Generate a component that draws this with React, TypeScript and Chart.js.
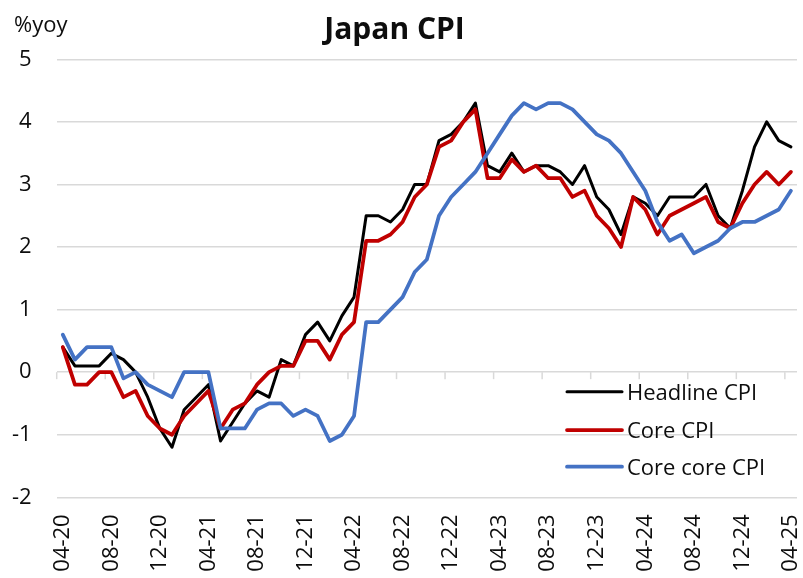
import React, { useEffect, useRef } from "react";
import { Chart, registerables } from "chart.js";

Chart.register(...registerables);

const categories = [
  "04-20", "05-20", "06-20", "07-20", "08-20", "09-20", "10-20", "11-20", "12-20",
  "01-21", "02-21", "03-21", "04-21", "05-21", "06-21", "07-21", "08-21", "09-21", "10-21", "11-21", "12-21",
  "01-22", "02-22", "03-22", "04-22", "05-22", "06-22", "07-22", "08-22", "09-22", "10-22", "11-22", "12-22",
  "01-23", "02-23", "03-23", "04-23", "05-23", "06-23", "07-23", "08-23", "09-23", "10-23", "11-23", "12-23",
  "01-24", "02-24", "03-24", "04-24", "05-24", "06-24", "07-24", "08-24", "09-24", "10-24", "11-24", "12-24",
  "01-25", "02-25", "03-25", "04-25",
];

const headlineCPI = [
  0.4, 0.1, 0.1, 0.1, 0.3, 0.2, 0.0, -0.4, -0.9, -1.2,
  -0.6, -0.4, -0.2, -1.1, -0.8, -0.5, -0.3, -0.4, 0.2, 0.1,
  0.6, 0.8, 0.5, 0.9, 1.2, 2.5, 2.5, 2.4, 2.6, 3.0,
  3.0, 3.7, 3.8, 4.0, 4.3, 3.3, 3.2, 3.5, 3.2, 3.3,
  3.3, 3.2, 3.0, 3.3, 2.8, 2.6, 2.2, 2.8, 2.7, 2.5,
  2.8, 2.8, 2.8, 3.0, 2.5, 2.3, 2.9, 3.6, 4.0, 3.7,
  3.6,
];

const coreCPI = [
  0.4, -0.2, -0.2, 0.0, 0.0, -0.4, -0.3, -0.7, -0.9, -1.0,
  -0.7, -0.5, -0.3, -0.9, -0.6, -0.5, -0.2, 0.0, 0.1, 0.1,
  0.5, 0.5, 0.2, 0.6, 0.8, 2.1, 2.1, 2.2, 2.4, 2.8,
  3.0, 3.6, 3.7, 4.0, 4.2, 3.1, 3.1, 3.4, 3.2, 3.3,
  3.1, 3.1, 2.8, 2.9, 2.5, 2.3, 2.0, 2.8, 2.6, 2.2,
  2.5, 2.6, 2.7, 2.8, 2.4, 2.3, 2.7, 3.0, 3.2, 3.0,
  3.2,
];

const coreCoreCPI = [
  0.6, 0.2, 0.4, 0.4, 0.4, -0.1, 0.0, -0.2, -0.3, -0.4,
  0.0, 0.0, 0.0, -0.9, -0.9, -0.9, -0.6, -0.5, -0.5, -0.7,
  -0.6, -0.7, -1.1, -1.0, -0.7, 0.8, 0.8, 1.0, 1.2, 1.6,
  1.8, 2.5, 2.8, 3.0, 3.2, 3.5, 3.8, 4.1, 4.3, 4.2,
  4.3, 4.3, 4.2, 4.0, 3.8, 3.7, 3.5, 3.2, 2.9, 2.4,
  2.1, 2.2, 1.9, 2.0, 2.1, 2.3, 2.4, 2.4, 2.5, 2.6,
  2.9,
];

const seriesNames = ["Headline CPI", "Core CPI", "Core core CPI"];
const seriesColors = ["#000000", "#C00000", "#4472C4"];
const seriesWidths = [3, 3.75, 3.75];
const yMin = -2;
const yMax = 5;
const yStep = 1;
const labelEvery = 4;
const chartTitle = "Japan CPI";
const yUnitLabel = "%yoy";

const FONT = "'Open Sans', Lato, sans-serif";
const GRID = "#d9d9d9";
const TEXT = "#0d0d0d";

export default function App() {
  const ref = useRef<HTMLCanvasElement>(null);

  useEffect(() => {
    const canvas = ref.current;
    if (!canvas) return;

    const decor = {
      id: "decor",
      beforeDatasetsDraw(chart: any) {
        const { ctx } = chart;
        const xs = chart.scales.x;
        const ys = chart.scales.y;
        const step = xs.getPixelForValue(1) - xs.getPixelForValue(0);
        const y0 = ys.getPixelForValue(0);
        ctx.save();
        ctx.strokeStyle = GRID;
        ctx.lineWidth = 1.5;
        for (let i = 0; i < categories.length; i += labelEvery) {
          const px = xs.getPixelForValue(i) - step / 2;
          ctx.beginPath();
          ctx.moveTo(px, y0);
          ctx.lineTo(px, y0 + 7);
          ctx.stroke();
        }
        ctx.restore();
      },
      afterDraw(chart: any) {
        const { ctx, chartArea, width } = chart;
        ctx.save();
        // title
        ctx.fillStyle = TEXT;
        ctx.font = `bold 30px ${FONT}`;
        ctx.textAlign = "center";
        ctx.textBaseline = "alphabetic";
        ctx.fillText(chartTitle, width / 2 - 7, 38.5);
        // unit label
        ctx.font = `22px ${FONT}`;
        ctx.textAlign = "left";
        ctx.fillText(yUnitLabel, 14, 32);
        // legend
        const lx = chartArea.right - 230;
        const rows = [chartArea.bottom - 105.6, chartArea.bottom - 67.3, chartArea.bottom - 30.6];
        ctx.font = `22px ${FONT}`;
        seriesNames.forEach((name, i) => {
          ctx.strokeStyle = seriesColors[i];
          ctx.lineWidth = seriesWidths[i];
          ctx.lineCap = "round";
          ctx.beginPath();
          ctx.moveTo(lx, rows[i]);
          ctx.lineTo(lx + 55, rows[i]);
          ctx.stroke();
          ctx.fillStyle = TEXT;
          ctx.fillText(name, lx + 60, rows[i] + 8);
        });
        ctx.restore();
      },
    };

    const series = [headlineCPI, coreCPI, coreCoreCPI];
    const chart = new Chart(canvas, {
      type: "line",
      data: {
        labels: categories,
        datasets: series.map((d, i) => ({
          label: seriesNames[i],
          data: d,
          borderColor: seriesColors[i],
          backgroundColor: seriesColors[i],
          borderWidth: seriesWidths[i],
          pointRadius: 0,
          tension: 0,
          borderJoinStyle: "round" as const,
          borderCapStyle: "round" as const,
          order: 3 - i,
        })),
      },
      options: {
        responsive: false,
        animation: false,
        events: [],
        layout: {
          autoPadding: false,
          padding: { top: 59.3, right: 6, left: 0, bottom: 0 },
        },
        plugins: {
          legend: { display: false },
          title: { display: false },
          tooltip: { enabled: false },
        },
        scales: {
          x: {
            type: "category",
            offset: true,
            grid: { display: false, drawTicks: false },
            border: { display: false },
            ticks: {
              autoSkip: false,
              maxRotation: 90,
              minRotation: 90,
              padding: 17,
              color: TEXT,
              font: { family: FONT, size: 22 },
              callback: (_v: any, i: number) => (i % labelEvery === 0 ? categories[i] : null),
            },
            afterFit: (s: any) => {
              s.height = 80.7;
              s.paddingLeft = 0;
              s.paddingRight = 0;
            },
          },
          y: {
            min: yMin,
            max: yMax,
            grid: { color: GRID, lineWidth: 1.5, drawTicks: false },
            border: { display: false },
            ticks: {
              stepSize: yStep,
              padding: 25,
              color: TEXT,
              font: { family: FONT, size: 22 },
            },
            afterFit: (s: any) => {
              s.width = 56.7;
              s.paddingTop = 0;
              s.paddingBottom = 0;
            },
          },
        },
      },
      plugins: [decor],
    });

    return () => chart.destroy();
  }, []);

  return (
    <div style={{ position: "absolute", left: 0, top: 0, width: 803, height: 578, background: "#fff" }}>
      <canvas ref={ref} width={803} height={578} style={{ display: "block" }} />
    </div>
  );
}
